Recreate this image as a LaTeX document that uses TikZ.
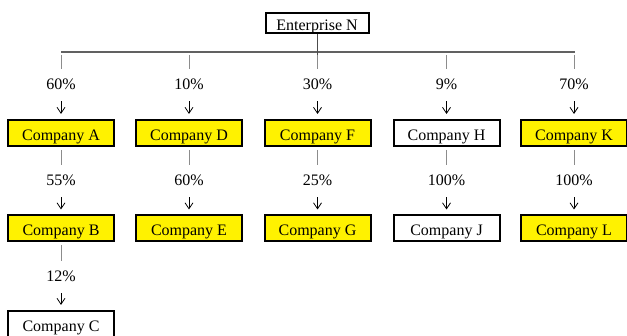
\documentclass[tikz,border=0pt]{standalone}
\usepackage{fontspec}
\setmainfont{Liberation Serif}
\usetikzlibrary{arrows.meta}

\tikzset{
  firm/.style={draw, line width=2pt, minimum width=106pt, minimum height=26pt,
    inner sep=0pt, text height=15pt, text depth=0pt, font=\fontsize{16}{19}\selectfont},
  held/.style={firm, fill=yellow},
  share/.style={inner sep=0pt, anchor=base, font=\fontsize{16}{19}\selectfont},
  bar/.style={draw=black!62, line width=1.6pt},
  stem/.style={draw=black!70, line width=1pt},
  tick/.style={draw=black!45, line width=0.9pt, shorten <=3pt, shorten >=10pt},
  stake/.style={-{Straight Barb[length=6pt,width=8pt]}, line width=0.8pt,
    shorten <=11pt, shorten >=5pt},
}

\begin{document}
\begin{tikzpicture}[x=1pt,y=-1pt]%
        \useasboundingbox (0,0) rectangle (627,336);
        % top
        \node[firm, minimum width=103pt, minimum height=20pt] (N) at (317,23) {Enterprise N};
        \coordinate (barL) at (61,52);
        \coordinate (barR) at (575,52);
        \coordinate (hub) at (317,58);
        \draw[bar] (barL) -- (barR);
        \draw[stem] (N) -- (hub);
        % companies
        \node[held] (A) at (61,133) {Company A};
        \node[held] (B) at (61,228.5) {Company B};
        \node[firm] (C) at (61,324) {Company C};
        \node[held] (D) at (189,133) {Company D};
        \node[held] (E) at (189,228.5) {Company E};
        \node[held] (F) at (317.5,133) {Company F};
        \node[held] (G) at (317.5,228.5) {Company G};
        \node[firm] (H) at (446.5,133) {Company H};
        \node[firm] (J) at (446.5,228.5) {Company J};
        \node[held] (K) at (574,133) {Company K};
        \node[held] (L) at (574,228.5) {Company L};
        % shares
        \node[share] (pA) at (61,90) {60\%};
        \node[share] (pD) at (189,90) {10\%};
        \node[share] (pF) at (317.5,90) {30\%};
        \node[share] (pH) at (446.5,90) {9\%};
        \node[share] (pK) at (574,90) {70\%};
        \node[share] (pB) at (61,186) {55\%};
        \node[share] (pE) at (189,186) {60\%};
        \node[share] (pG) at (317.5,186) {25\%};
        \node[share] (pJ) at (446.5,186) {100\%};
        \node[share] (pL) at (574,186) {100\%};
        \node[share] (pC) at (61,282) {12\%};
        % links
        \draw[tick] (pA |- barL) -- (pA);
        \draw[tick] (pD |- barL) -- (pD);
        \draw[tick] (pF |- barL) -- (pF);
        \draw[tick] (pH |- barL) -- (pH);
        \draw[tick] (pK |- barL) -- (pK);
        \draw[stake] (pA) -- (A);
        \draw[stake] (pD) -- (D);
        \draw[stake] (pF) -- (F);
        \draw[stake] (pH) -- (H);
        \draw[stake] (pK) -- (K);
        \draw[tick] (A) -- (pB);
        \draw[tick] (D) -- (pE);
        \draw[tick] (F) -- (pG);
        \draw[tick] (H) -- (pJ);
        \draw[tick] (K) -- (pL);
        \draw[stake] (pB) -- (B);
        \draw[stake] (pE) -- (E);
        \draw[stake] (pG) -- (G);
        \draw[stake] (pJ) -- (J);
        \draw[stake] (pL) -- (L);
        \draw[tick] (B) -- (pC);
        \draw[stake] (pC) -- (C);
    \end{tikzpicture}
\end{document}
